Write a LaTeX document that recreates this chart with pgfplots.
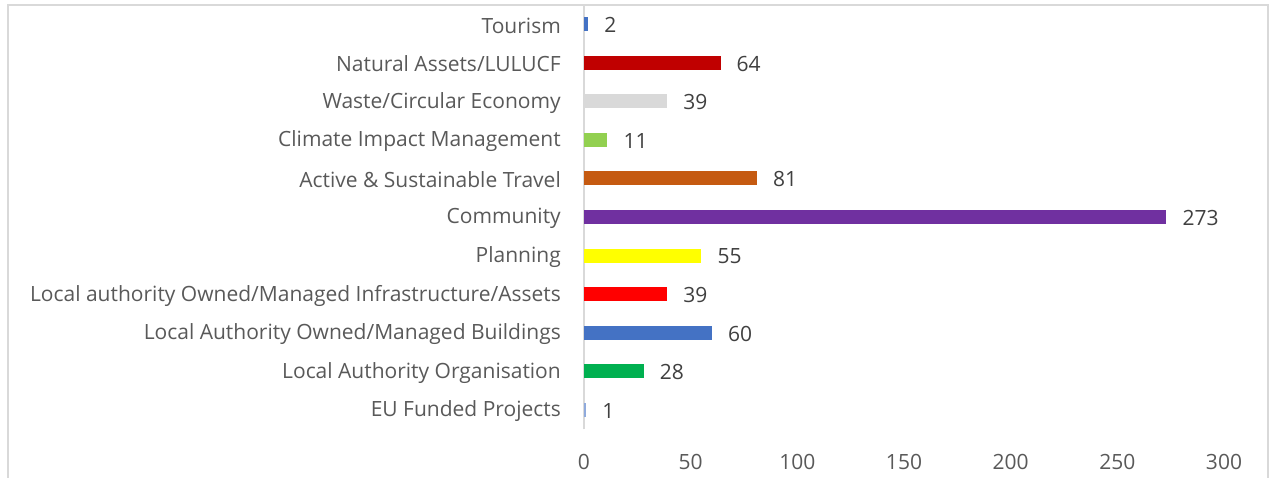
\documentclass[border=0pt]{standalone}
\usepackage{fontspec}
\setmainfont{Open Sans}
\usepackage{pgfplots}
\pgfplotsset{compat=1.18}
\definecolor{lbl}{HTML}{595959}
\definecolor{val}{HTML}{404040}
\definecolor{frame}{HTML}{D9D9D9}
\definecolor{c1}{HTML}{8FAADC}
\definecolor{c2}{HTML}{00B050}
\definecolor{c3}{HTML}{4472C4}
\definecolor{c4}{HTML}{FF0000}
\definecolor{c5}{HTML}{FFFF00}
\definecolor{c6}{HTML}{7030A0}
\definecolor{c7}{HTML}{C55A11}
\definecolor{c8}{HTML}{92D050}
\definecolor{c9}{HTML}{D9D9D9}
\definecolor{c10}{HTML}{C00000}
\definecolor{c11}{HTML}{4472C4}
\begin{document}
\fontsize{21bp}{25bp}\selectfont
\begin{tikzpicture}
\useasboundingbox (0,0) rectangle (1269bp,478bp);
\draw[line width=1.5bp, frame] (8bp,-5bp) -- (8bp,473bp) -- (1268bp,473bp) -- (1268bp,-5bp);
\begin{axis}[
  at={(584bp,48.7bp)}, anchor=south west,
  scale only axis, width=640bp, height=424.6bp,
  xmin=0, xmax=300, ymin=-0.5, ymax=10.5,
  xbar, bar width=14bp, bar shift=0pt,
  axis lines*=left,
  x axis line style={draw=none},
  y axis line style={draw=frame, line width=1.5bp},
  major tick length=0pt,
  xtick={0,50,...,300},
  ytick={0,...,10},
  yticklabels={EU Funded Projects, Local Authority Organisation, Local Authority Owned/Managed Buildings, Local authority Owned/Managed Infrastructure/Assets, Planning, Community, Active \& Sustainable Travel, Climate Impact Management, Waste/Circular Economy, Natural Assets/LULUCF, Tourism},
  /pgf/number format/assume math mode=true,
  tick label style={font=\fontsize{21bp}{25bp}\selectfont, text=lbl},
  xticklabel style={anchor=center, yshift=-32.7bp},
  yticklabel style={anchor=east, inner sep=0pt, xshift=-23bp, yshift=-1.5bp},
  nodes near coords,
  nodes near coords style={anchor=west, inner sep=0pt, xshift=16bp, yshift=-1bp, text=val, font=\fontsize{21bp}{25bp}\selectfont},
  every axis plot/.append style={draw=none},
]
\addplot[fill=c1] coordinates {(1,0)};
\addplot[fill=c2] coordinates {(28,1)};
\addplot[fill=c3] coordinates {(60,2)};
\addplot[fill=c4] coordinates {(39,3)};
\addplot[fill=c5] coordinates {(55,4)};
\addplot[fill=c6] coordinates {(273,5)};
\addplot[fill=c7] coordinates {(81,6)};
\addplot[fill=c8] coordinates {(11,7)};
\addplot[fill=c9] coordinates {(39,8)};
\addplot[fill=c10] coordinates {(64,9)};
\addplot[fill=c11] coordinates {(2,10)};
\end{axis}
\end{tikzpicture}
\end{document}
